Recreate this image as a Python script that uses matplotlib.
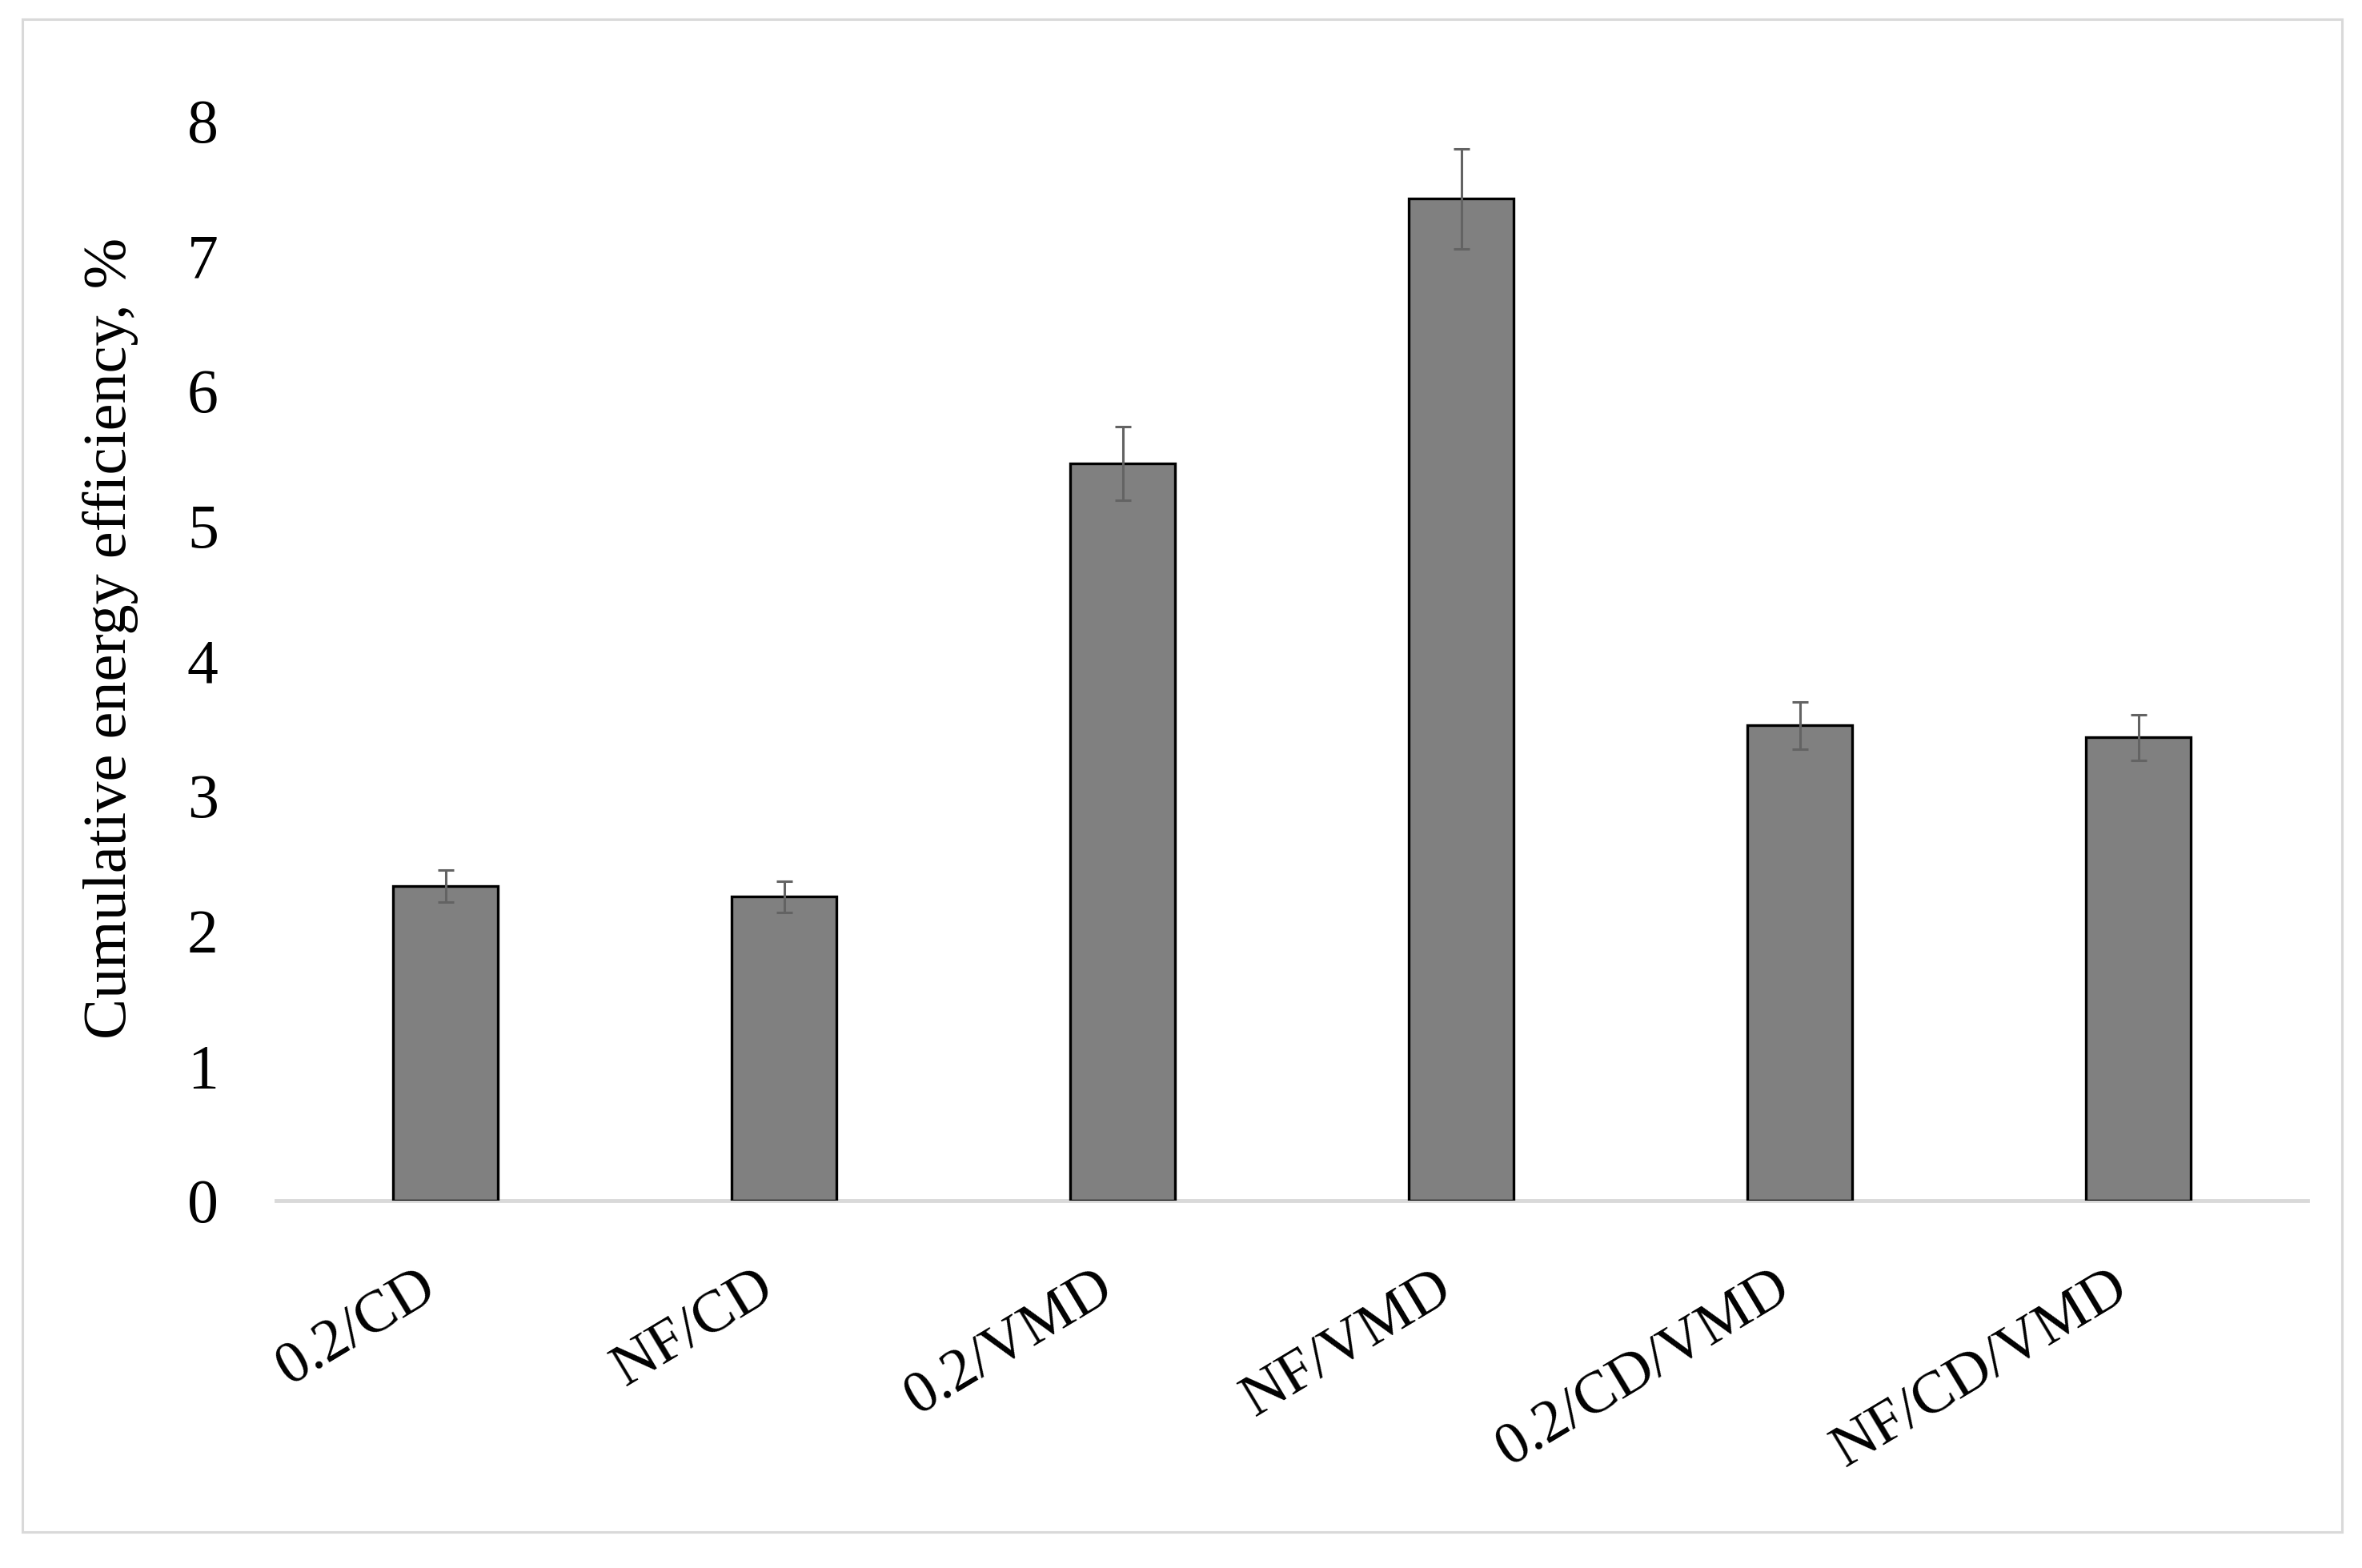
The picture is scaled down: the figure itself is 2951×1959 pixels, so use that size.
import matplotlib
matplotlib.use("Agg")
import matplotlib.pyplot as plt
from matplotlib.patches import Rectangle

categories = ["0.2/CD", "NF/CD", "0.2/VMD", "NF/VMD", "0.2/CD/VMD", "NF/CD/VMD"]
values = [2.33, 2.25, 5.46, 7.42, 3.52, 3.43]
errors = [0.12, 0.115, 0.27, 0.37, 0.175, 0.17]
yticks = [0, 1, 2, 3, 4, 5, 6, 7, 8]
ylabel = "Cumulative energy efficiency, %"

plt.rcParams['font.family'] = ['Liberation Serif', 'DejaVu Serif']

W, H = 2951, 1959
fig = plt.figure(figsize=(W / 100, H / 100), dpi=100)
fig.patch.set_facecolor("white")

# outer chart-area frame
fig.add_artist(Rectangle((28 / W, 1 - 1914 / H), (2926 - 28) / W, (1914 - 24) / H,
                         transform=fig.transFigure, fill=False,
                         edgecolor="#d9d9d9", linewidth=2.2))

ax = fig.add_axes([345 / W, 1 - 1500 / H, (2883 - 345) / W, (1500 - 150.6) / H])

x = list(range(len(categories)))
ax.bar(x, values, width=0.31, color="#808080", edgecolor="black", linewidth=2.4, zorder=2)
ax.errorbar(x, values, yerr=errors, fmt="none", ecolor="#636363",
            elinewidth=2.2, capsize=7, capthick=2.2, zorder=3)

ax.set_xlim(-0.5, len(categories) - 0.5)
ax.set_ylim(0, 8)
ax.set_yticks(yticks)
ax.set_yticklabels([str(v) for v in yticks])
ax.set_xticks(x)
ax.set_xticklabels(categories, rotation=31, ha="right")

for s in ["top", "right", "left"]:
    ax.spines[s].set_visible(False)
ax.spines["bottom"].set_color("#d9d9d9")
ax.spines["bottom"].set_linewidth(3.5)
ax.spines["bottom"].set_zorder(1)

ax.tick_params(axis="y", length=0, pad=52, labelsize=56, labelcolor="black")
ax.tick_params(axis="x", length=0, pad=54, labelsize=54, labelcolor="black")

fig.text(138 / W, 1 - 797 / H, ylabel, rotation=90, ha="center", va="center",
         fontsize=55, color="black")

fig.savefig("out.png", dpi=100, facecolor="white")
